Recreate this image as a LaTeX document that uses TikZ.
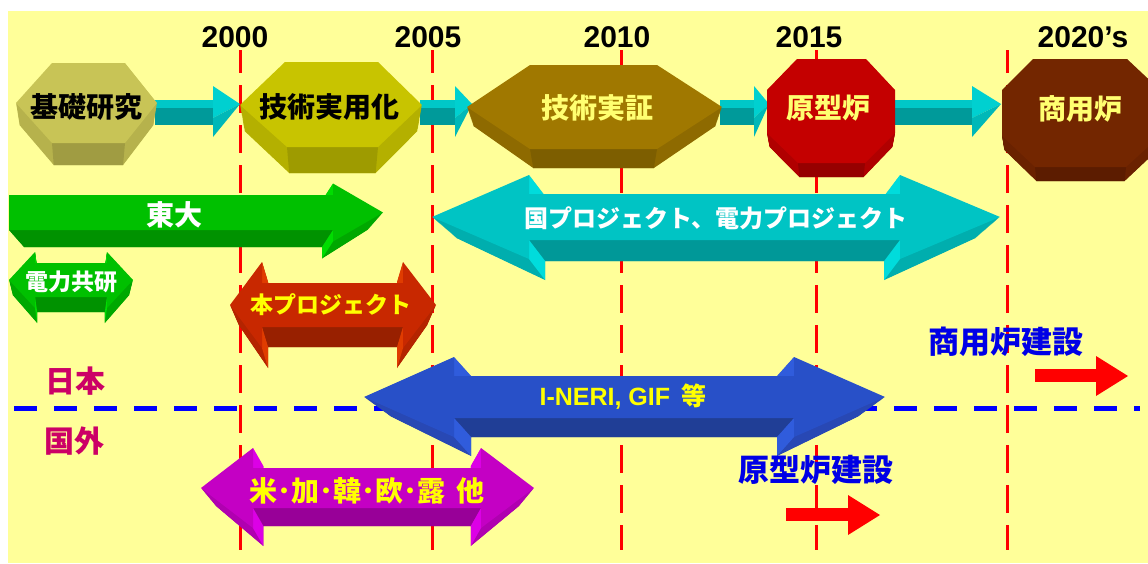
\documentclass[tikz,border=0pt]{standalone}
\usepackage{fontspec}
\setmainfont{Liberation Sans}
\newfontfamily\jp{Noto Sans CJK JP}
% colours
\definecolor{bgY}{HTML}{FFFF99}
\definecolor{ltY}{HTML}{FFFF70}
\definecolor{txY}{HTML}{FFFF00}
\definecolor{jpRed}{HTML}{CC0066}
\definecolor{bldBlue}{HTML}{0000E6}
\definecolor{gF}{HTML}{00C000}\definecolor{gM}{HTML}{00A800}\definecolor{gD}{HTML}{009200}\definecolor{gB}{HTML}{00DC00}
\definecolor{oF}{HTML}{C82800}\definecolor{oM}{HTML}{B42400}\definecolor{oD}{HTML}{982000}\definecolor{oB}{HTML}{E03C00}
\definecolor{cF}{HTML}{00C4C4}\definecolor{cM}{HTML}{00AEAE}\definecolor{cD}{HTML}{009898}\definecolor{cB}{HTML}{00DCDC}
\definecolor{bF}{HTML}{2850C8}\definecolor{bM}{HTML}{2848B4}\definecolor{bD}{HTML}{203E96}\definecolor{bB}{HTML}{305CDC}
\definecolor{mF}{HTML}{C400C4}\definecolor{mM}{HTML}{B000B0}\definecolor{mD}{HTML}{980098}\definecolor{mB}{HTML}{DC00E6}
\definecolor{hAF}{HTML}{C8C456}\definecolor{hAS}{HTML}{B6B24C}\definecolor{hAB}{HTML}{A09C42}
\definecolor{hBF}{HTML}{C8C400}\definecolor{hBS}{HTML}{B4B000}\definecolor{hBB}{HTML}{9E9B00}
\definecolor{hCF}{HTML}{A07800}\definecolor{hCS}{HTML}{8E6A00}\definecolor{hCB}{HTML}{7D5E00}
\definecolor{hDF}{HTML}{C40000}\definecolor{hDS}{HTML}{B00000}\definecolor{hDB}{HTML}{960000}
\definecolor{hEF}{HTML}{732600}\definecolor{hES}{HTML}{6A2200}\definecolor{hEB}{HTML}{5C1C00}
\definecolor{cyTop}{HTML}{00C8C8}\definecolor{cyFr}{HTML}{009A9A}
\definecolor{cyHd}{HTML}{00D0D0}\definecolor{cyHdL}{HTML}{00B8B8}
\tikzset{
  bk/.style n args={3}{shift={(#1,#2)},xscale=#3,shift={(-#1,0)}},
  hx/.style={inner sep=0pt, font=\jp\bfseries\fontsize{28}{30}\selectfont},
  yr/.style={inner sep=0pt, anchor=base, font=\bfseries\fontsize{30}{32}\selectfont},
  vline/.style={red, line width=3pt, dash pattern=on 28pt off 12pt, dash phase=5pt},
  hline/.style={blue, line width=5pt, dash pattern=on 23pt off 17pt},
}
\newcommand\sweep[5]{%
  \foreach \i in {24,23,...,1}{%
    \fill[#5,bk={#2}{\i*#3/24}{1+\i*(#4-1)/24}] #1;
  }%
}
\newcommand\setacol[1]{\colorlet{aF}{#1F}\colorlet{aM}{#1M}\colorlet{aD}{#1D}\colorlet{aB}{#1B}}
\newcommand\setpcol[1]{\colorlet{pF}{#1F}\colorlet{pS}{#1S}\colorlet{pB}{#1B}}
% double arrow: xl xh1 xh2 xr ym h H dy sx
\newcommand\dblarrow[9]{%
  \pgfmathsetmacro\acx{(#1+#4)/2}%
  \def\apath{(#1,#5) -- (#2,#5-#7) -- (#2,#5-#6) -- (#3,#5-#6) -- (#3,#5-#7) -- (#4,#5) -- (#3,#5+#7) -- (#3,#5+#6) -- (#2,#5+#6) -- (#2,#5+#7) -- cycle}%
  \sweep{\apath}{\acx}{#8}{#9}{aM}%
  \path[bk={\acx}{#8}{#9}] (#2,#5+#6) coordinate (q1) (#3,#5+#6) coordinate (q2)
     (#2,#5+#7) coordinate (q3) (#3,#5+#7) coordinate (q4)
     (#2,#5-#7) coordinate (q5) (#2,#5-#6) coordinate (q6)
     (#3,#5-#7) coordinate (q7) (#3,#5-#6) coordinate (q8);
  \fill[aD] (#2,#5+#6) -- (#3,#5+#6) -- (q2) -- (q1) -- cycle;
  \fill[aB] (#2,#5+#6) -- (#2,#5+#7) -- (q3) -- (q1) -- cycle;
  \fill[aB] (#3,#5+#6) -- (#3,#5+#7) -- (q4) -- (q2) -- cycle;
  \fill[aB] (#2,#5-#7) -- (#2,#5-#6) -- (q6) -- (q5) -- cycle;
  \fill[aB] (#3,#5-#7) -- (#3,#5-#6) -- (q8) -- (q7) -- cycle;
  \fill[aF] \apath;
}
% right arrow: xl xh xr ym h H dy sx
\newcommand\rarrow[8]{%
  \pgfmathsetmacro\acx{(#1+#3)/2}%
  \def\apath{(#1,#4-#5) -- (#2,#4-#5) -- (#2,#4-#6) -- (#3,#4) -- (#2,#4+#6) -- (#2,#4+#5) -- (#1,#4+#5) -- cycle}%
  \sweep{\apath}{\acx}{#7}{#8}{aM}%
  \path[bk={\acx}{#7}{#8}] (#1,#4+#5) coordinate (q1) (#2,#4+#5) coordinate (q2)
     (#2,#4+#6) coordinate (q4) (#2,#4-#6) coordinate (q7) (#2,#4-#5) coordinate (q8);
  \fill[aD] (#1,#4+#5) -- (#2,#4+#5) -- (q2) -- (q1) -- cycle;
  \fill[aB] (#2,#4+#5) -- (#2,#4+#6) -- (q4) -- (q2) -- cycle;
  \fill[aB] (#2,#4-#6) -- (#2,#4-#5) -- (q8) -- (q7) -- cycle;
  \fill[aF] \apath;
}
% prism: path cx dy sx BLx BRx By
\newcommand\prism[7]{%
  \sweep{#1}{#2}{#3}{#4}{pS}%
  \path[bk={#2}{#3}{#4}] (#5,#7) coordinate (r1) (#6,#7) coordinate (r2);
  \fill[pB] (#5,#7) -- (#6,#7) -- (r2) -- (r1) -- cycle;
  \fill[pF] #1;
}
% small cyan arrow: x0 xh xt
\newcommand\cyarrow[3]{%
  \fill[cyTop] (#1,100) rectangle (#2,108);
  \fill[cyFr] (#1,108) rectangle (#2,125);
  \fill[cyHd] (#2,86) -- (#3,104) -- (#2,118) -- cycle;
  \fill[cyHdL] (#2,118) -- (#3,104) -- (#2,137) -- cycle;
}
\begin{document}
\begin{tikzpicture}[x=1pt,y=-1pt]
\useasboundingbox (0,0) rectangle (1148,563);
\clip (0,0) rectangle (1148,563);
\fill[white] (0,0) rectangle (1148,563);
\fill[bgY] (8,11) rectangle (1148,563);

% year labels
\node[yr] (y2000) at (235,47) {2000};
\node[yr] (y2005) at (428,47) {2005};
\node[yr] (y2010) at (617,47) {2010};
\node[yr] (y2015) at (809,47) {2015};
\node[yr] (y2020) at (1083,47) {2020’s};

% grid lines
\foreach \x in {240,432,621,816,1007}{\draw[vline] (\x,50) -- (\x,550);}
\draw[hline] (14,408) -- (1140,408);

% small cyan arrows
\cyarrow{155}{213}{240}
\cyarrow{420}{455}{472}
\cyarrow{720}{754}{769}
\cyarrow{893}{972}{1001}

% stage prisms
\setpcol{hA}
\prism{(52,63) -- (125,63) -- (157,103) -- (125,143) -- (52,143) -- (16,103) -- cycle}{86.5}{22}{0.95}{52}{125}{143}
\setpcol{hB}
\prism{(285,62) -- (378,62) -- (422,105) -- (378,147) -- (287,147) -- (240,105) -- cycle}{331}{26}{0.95}{287}{378}{147}
\setpcol{hC}
\prism{(530,65) -- (657,65) -- (722,107) -- (657,149) -- (530,149) -- (467,107) -- cycle}{594.5}{19}{0.95}{530}{657}{149}
\setpcol{hD}
\prism{(797,59) -- (866,59) -- (895,90) -- (895,133) -- (865,163) -- (798,163) -- (767,133) -- (767,90) -- cycle}{831}{14}{0.96}{798}{865}{163}
\setpcol{hE}
\prism{(1033,59) -- (1127,59) -- (1160,90) -- (1160,136) -- (1126,167) -- (1035,167) -- (1002,136) -- (1002,90) -- cycle}{1081}{14}{0.97}{1035}{1126}{167}

\node[hx] (kiso) at (86,107) {基礎研究};
\node[hx] (jitsuyo) at (329,107) {技術実用化};
\node[hx, text=ltY] (jissho) at (597,108) {技術実証};
\node[hx, text=ltY] (genkei) at (828,108) {原型炉};
\node[hx, text=ltY] (shoyo) at (1080,109) {商用炉};

% big 3D arrows
\setacol{g}\rarrow{9}{333}{383}{212.5}{17.5}{29}{17}{0.92}
\setacol{g}\dblarrow{9}{35}{107}{133}{280}{17}{28}{15}{0.94}
\setacol{o}\dblarrow{230}{262}{403}{436}{305}{22}{43}{20}{0.915}
\setacol{c}\dblarrow{432}{529}{900}{1000}{217}{23}{42}{21}{0.914}
\setacol{b}\dblarrow{364}{454}{794}{885}{397}{21}{40}{19}{0.90}
\setacol{m}\dblarrow{201}{253}{481}{534}{488}{20}{40}{18}{0.91}

\node[hx, text=white] (todai) at (174,215) {東大};
\node[hx, text=white, font=\jp\bfseries\fontsize{23}{25}\selectfont] (denken) at (71,282) {電力共研};
\node[hx, text=txY, font=\jp\bfseries\fontsize{23}{25}\selectfont] (honpj) at (331,305) {本プロジェクト};
\node[hx, text=white, font=\jp\bfseries\fontsize{24}{26}\selectfont] (kunipj) at (716,218) {国プロジェクト、電力プロジェクト};
\node[inner sep=0pt, text=txY, font=\bfseries\fontsize{25}{27}\selectfont] (ineri) at (623,397) {I-NERI, GIF\hspace{0.45em}{\jp 等}};
\node[hx, text=txY] (kaigai) at (367,491) {米･加･韓･欧･露\hspace{0.4em}他};

\node[hx, text=jpRed, font=\jp\bfseries\fontsize{30}{32}\selectfont] (nihon) at (75,381) {日本};
\node[hx, text=jpRed, font=\jp\bfseries\fontsize{30}{32}\selectfont] (kokugai) at (74,441) {国外};
\node[hx, text=bldBlue, font=\jp\bfseries\fontsize{31}{33}\selectfont] (shoken) at (1006,342) {商用炉建設};
\node[hx, text=bldBlue, font=\jp\bfseries\fontsize{31}{33}\selectfont] (genken) at (816,470) {原型炉建設};

% red construction arrows
\fill[red] (786,508) rectangle (848,521);
\fill[red] (848,495) -- (880,515) -- (848,535) -- cycle;
\fill[red] (1035,369) rectangle (1096,382);
\fill[red] (1096,356) -- (1128,376) -- (1096,396) -- cycle;
\end{tikzpicture}
\end{document}
